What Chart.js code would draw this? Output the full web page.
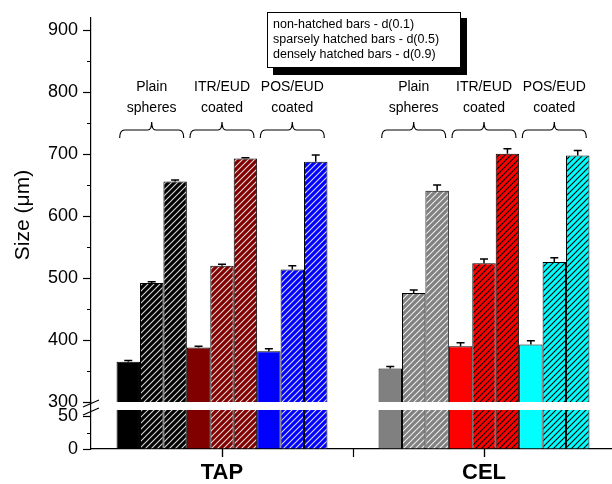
<!DOCTYPE html>
<html>
<head>
  <meta charset="UTF-8">
  <title>Size chart</title>
  <script src="https://cdn.jsdelivr.net/npm/chart.js@4"></script>
  <style>
    html, body { margin: 0; padding: 0; background: #fff; overflow: hidden; }
    #wrap { position: absolute; left: 0; top: 0; width: 620px; height: 484px; }
  </style>
</head>
<body>
  <div id="wrap"><canvas id="chart" width="620" height="484"></canvas></div>
  <script>
    // categories and labels
    const groups = ['TAP', 'CEL'];
    const coatings = [['Plain', 'spheres'], ['ITR/EUD', 'coated'], ['POS/EUD', 'coated']];
    const legendLines = ['non-hatched bars - d(0.1)', 'sparsely hatched bars - d(0.5)', 'densely hatched bars - d(0.9)'];

    // sizes (um), [TAP, CEL]
    const plainD10 = [365, 354];
    const plainD50 = [492, 476];
    const plainD90 = [656, 641];
    const itrD10 = [388, 390];
    const itrD50 = [520, 524];
    const itrD90 = [693, 701];
    const posD10 = [382, 393];
    const posD50 = [514, 526];
    const posD90 = [688, 698];

    // upper error (um)
    const plainErr10 = [2, 3.5];
    const plainErr50 = [2, 5];
    const plainErr90 = [2.5, 9.5];
    const itrErr10 = [2, 5.5];
    const itrErr50 = [2.5, 7];
    const itrErr90 = [1.5, 8];
    const posErr10 = [4, 6];
    const posErr50 = [6, 7];
    const posErr90 = [11, 8];

    // colours per coating, [TAP, CEL]
    const plainFill = ['#000000', '#808080'];
    const itrFill = ['#800000', '#ff0000'];
    const posFill = ['#0000ff', '#00ffff'];
    const plainHatch = ['rgba(255,255,255,0.85)', 'rgba(255,255,255,0.85)'];
    const itrHatch = ['rgba(255,255,255,0.85)', '#000000'];
    const posHatch = ['rgba(255,255,255,0.85)', '#000000'];

    const FONT = '"Liberation Sans", Arial, sans-serif';

    function hatch(bg, fg, step) {
      const c = document.createElement('canvas');
      c.width = step; c.height = step;
      const g = c.getContext('2d');
      g.fillStyle = bg;
      g.fillRect(0, 0, step, step);
      g.strokeStyle = fg;
      g.lineWidth = 1.1;
      g.beginPath();
      g.moveTo(0, step); g.lineTo(step, 0);
      g.moveTo(-1, 1); g.lineTo(1, -1);
      g.moveTo(step - 1, step + 1); g.lineTo(step + 1, step - 1);
      g.stroke();
      return g.createPattern(c, 'repeat');
    }

    const coatingSets = [
      { fill: plainFill, line: plainHatch, vals: [plainD10, plainD50, plainD90], errs: [plainErr10, plainErr50, plainErr90] },
      { fill: itrFill, line: itrHatch, vals: [itrD10, itrD50, itrD90], errs: [itrErr10, itrErr50, itrErr90] },
      { fill: posFill, line: posHatch, vals: [posD10, posD50, posD90], errs: [posErr10, posErr50, posErr90] }
    ];

    const series = [];
    coatingSets.forEach((cs, ci) => {
      for (let d = 0; d < 3; d++) {
        const bg = cs.fill.map((f, g) => d === 0 ? f : hatch(f, cs.line[g], 6));
        series.push({ stack: 's' + (ci * 3 + d), values: cs.vals[d], errors: cs.errs[d], bg: bg });
      }
    });

    const datasets = [];
    ['yTop', 'yBot'].forEach(axis => {
      series.forEach(s => {
        datasets.push({
          data: s.values,
          yAxisID: axis,
          stack: s.stack,
          backgroundColor: s.bg,
          borderColor: '#000',
          borderWidth: 1,
          categoryPercentage: 0.805,
          barPercentage: 1
        });
      });
    });

    const decor = {
      id: 'decor',
      afterDatasetsDraw(chart) {
        const ctx = chart.ctx;
        const x = chart.scales.x, yT = chart.scales.yTop, yB = chart.scales.yBot;
        ctx.save();

        // error bars (upper)
        ctx.strokeStyle = '#000';
        ctx.lineWidth = 1.5;
        series.forEach((s, i) => {
          chart.getDatasetMeta(i).data.forEach((bar, j) => {
            const yc = yT.getPixelForValue(s.values[j] + s.errors[j]);
            ctx.beginPath();
            ctx.moveTo(bar.x, bar.y);
            ctx.lineTo(bar.x, yc);
            ctx.moveTo(bar.x - 4, yc);
            ctx.lineTo(bar.x + 4, yc);
            ctx.stroke();
          });
        });

        // axis break band
        const yb = yT.bottom;
        ctx.fillStyle = '#fff';
        ctx.fillRect(x.left + 1, yb, x.right - x.left, 8);
        ctx.strokeStyle = '#000';
        ctx.lineWidth = 1.2;
        ctx.beginPath();
        ctx.moveTo(x.left - 8, yb + 5); ctx.lineTo(x.left + 8, yb - 2);
        ctx.moveTo(x.left - 8, yb + 13); ctx.lineTo(x.left + 8, yb + 6);
        ctx.stroke();

        // minor ticks
        ctx.beginPath();
        for (let v = 350; v < 900; v += 100) {
          const p = Math.round(yT.getPixelForValue(v)) + 0.5;
          ctx.moveTo(x.left - 4, p); ctx.lineTo(x.left, p);
        }
        const p25 = Math.round(yB.getPixelForValue(25)) + 0.5;
        ctx.moveTo(x.left - 4, p25); ctx.lineTo(x.left, p25);
        // x ticks at group centres and between groups
        const x0 = x.getPixelForValue(0), x1 = x.getPixelForValue(1);
        [x0, (x0 + x1) / 2, x1].forEach(px => {
          const xp = Math.round(px) + 0.5;
          ctx.moveTo(xp, x.top); ctx.lineTo(xp, x.top + 8);
        });
        ctx.stroke();

        // brackets and coating labels
        ctx.fillStyle = '#000';
        ctx.font = '14px ' + FONT;
        ctx.textAlign = 'center';
        ctx.textBaseline = 'middle';
        ctx.lineWidth = 1.2;
        groups.forEach((g, gi) => {
          coatings.forEach((lab, ci) => {
            const a = chart.getDatasetMeta(ci * 3).data[gi];
            const b = chart.getDatasetMeta(ci * 3 + 2).data[gi];
            const cx = ((a.x - a.width / 2) + (b.x + b.width / 2)) / 2;
            const l = cx - 32, r = cx + 32;
            ctx.beginPath();
            ctx.moveTo(l, 138);
            ctx.quadraticCurveTo(l, 130, l + 5, 130);
            ctx.lineTo(cx - 4, 130);
            ctx.quadraticCurveTo(cx, 130, cx, 122);
            ctx.quadraticCurveTo(cx, 130, cx + 4, 130);
            ctx.lineTo(r - 5, 130);
            ctx.quadraticCurveTo(r, 130, r, 138);
            ctx.stroke();
            ctx.fillText(lab[0], cx, 87);
            ctx.fillText(lab[1], cx, 108);
          });
        });

        // legend note box
        ctx.fillStyle = '#000';
        ctx.fillRect(273, 18, 194, 57);
        ctx.fillStyle = '#fff';
        ctx.fillRect(267, 12, 194, 56);
        ctx.strokeStyle = '#000';
        ctx.lineWidth = 1;
        ctx.strokeRect(267.5, 12.5, 193, 55);
        ctx.fillStyle = '#000';
        ctx.font = '12.5px ' + FONT;
        ctx.textAlign = 'left';
        legendLines.forEach((t, i) => ctx.fillText(t, 273, 25 + i * 15));

        // y title
        ctx.translate(23, 215);
        ctx.rotate(-Math.PI / 2);
        ctx.font = '21px ' + FONT;
        ctx.textAlign = 'center';
        ctx.fillText('Size (\u03bcm)', 0, 0);
        ctx.restore();
      }
    };

    const yCommon = {
      type: 'linear',
      position: 'left',
      stack: 'size',
      stacked: false,
      offset: false,
      grid: { display: true, drawOnChartArea: false, tickLength: 8, color: '#000', tickColor: '#000', tickWidth: 1.2 },
      border: { display: true, color: '#000', width: 1.2 },
      ticks: { color: '#000', font: { family: FONT, size: 18 }, padding: 5, includeBounds: false },
      afterFit(scale) { scale.width = 91; }
    };

    new Chart(document.getElementById('chart'), {
      type: 'bar',
      data: { labels: groups, datasets: datasets },
      options: {
        responsive: false,
        animation: false,
        devicePixelRatio: 1,
        layout: { padding: { top: 18, right: 5, left: 0, bottom: 0 } },
        plugins: { legend: { display: false }, tooltip: { enabled: false } },
        scales: {
          x: {
            grid: { display: true, drawOnChartArea: false, offset: false, tickLength: 8, color: '#000', tickColor: '#000', tickWidth: 1.2 },
            border: { display: true, color: '#000', width: 1.2 },
            ticks: { color: '#000', font: { family: FONT, size: 22, weight: 'bold' }, padding: 3 },
            afterFit(scale) { scale.height = 35; }
          },
          yBot: Object.assign({}, yCommon, {
            min: 0, max: 72, stackWeight: 47, weight: 0,
            ticks: Object.assign({}, yCommon.ticks, { stepSize: 50 })
          }),
          yTop: Object.assign({}, yCommon, {
            min: 300, max: 920, stackWeight: 384, weight: 1,
            ticks: Object.assign({}, yCommon.ticks, { stepSize: 100 })
          })
        }
      },
      plugins: [decor]
    });
  </script>
</body>
</html>
